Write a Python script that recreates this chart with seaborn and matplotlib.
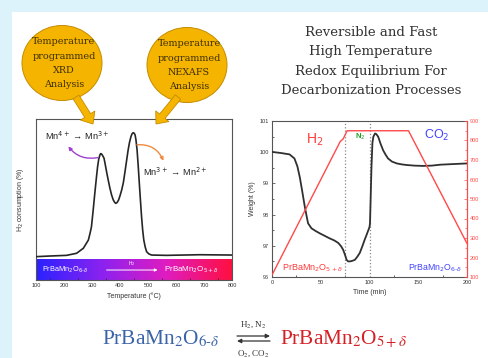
import numpy as np
import matplotlib
matplotlib.use('Agg')
import matplotlib.pyplot as plt
import seaborn as sns
from matplotlib.patches import Rectangle, Ellipse, FancyArrow
from matplotlib.colors import LinearSegmentedColormap

# ---------------- data ----------------
tpr_temp = [100, 150, 209, 245, 269, 287, 293, 298, 304, 310, 316, 320, 324, 328, 331, 334, 338,
            343, 347, 352, 358, 364, 370, 376, 381, 385, 390, 395, 400, 406, 412, 417, 423, 429,
            434, 439, 443, 447, 451, 454, 457, 461, 465, 469, 473, 477, 481, 485, 490, 495, 503,
            513, 566, 685, 800]
tpr_h2 = [14.5, 14.9, 15.3, 16.6, 19.7, 24.8, 29, 33, 43, 53.8, 64, 70.4, 75, 77.6, 78.5, 78.3, 77.3,
          75.6, 72, 67.3, 62, 57, 52.8, 49.7, 48.2, 47.6, 48.2, 49.7, 52.3, 55.9, 60.5, 66.3, 73.5, 80.7,
          85.5, 89, 90.8, 91.5, 91.1, 90, 87, 80.7, 71, 60, 49.5, 39.3, 31, 24.8, 20.5, 17.6, 16.2,
          15.5, 15.3, 15.7, 15.5]
tpr_ticks = [100, 200, 300, 400, 500, 600, 700, 800]

time_w = [0, 10, 18, 23, 26, 28.5, 31, 33.6, 35.5, 37, 40.5, 45, 49, 54, 59, 64, 68, 71, 73, 75,
          76.5, 78, 80, 82.5, 85, 87.5, 90, 92.5, 95, 97, 98.8, 100, 100.5, 101, 102, 103, 104,
          105.7, 107, 109, 111, 114, 116.5, 119, 123, 128, 133, 138, 146, 155, 164, 172.6, 186, 200]
weight = [100.01, 99.97, 99.93, 99.8, 99.55, 99.2, 98.75, 98.26, 97.95, 97.72, 97.56, 97.47, 97.4,
          97.32, 97.24, 97.17, 97.09, 96.98, 96.87, 96.7, 96.55, 96.5, 96.5, 96.52, 96.55, 96.65,
          96.77, 96.97, 97.19, 97.35, 97.5, 97.6, 97.72, 98.3, 99.5, 100.3, 100.5, 100.6, 100.58,
          100.49, 100.3, 100.06, 99.92, 99.8, 99.7, 99.64, 99.61, 99.59, 99.57, 99.56, 99.57, 99.6,
          99.62, 99.64]
time_T = [0, 70, 73, 77, 140, 200]
temp_T = [110, 795, 808, 850, 850, 272]
switch_times = [75, 100]
time_ticks = [0, 50, 100, 150, 200]
weight_ticks = [96, 97, 98, 99, 100, 101]
temp_ticks = [100, 200, 300, 400, 500, 600, 700, 800, 900]

title_lines = ["Reversible and Fast", "High Temperature", "Redox Equilibrium For",
               "Decarbonization Processes"]

# ---------------- style ----------------
sns.set_theme(style='white')
plt.rcParams['font.family'] = ['Liberation Sans', 'DejaVu Sans']
plt.rcParams['xtick.direction'] = 'in'
plt.rcParams['ytick.direction'] = 'in'

fig = plt.figure(figsize=(4.88, 3.58), dpi=100)
fig.patch.set_facecolor('#ddf3fc')

W, H = 488, 358


def px_axes(l, t, r, b, **kw):
    return fig.add_axes([l / W, (H - b) / H, (r - l) / W, (b - t) / H], **kw)


bg = fig.add_axes([0, 0, 1, 1], zorder=-5)
bg.set_xlim(0, W)
bg.set_ylim(H, 0)
bg.axis('off')
bg.add_patch(Rectangle((12, 12), 476, 346, facecolor='white', edgecolor='none'))

gold = '#f5b400'
gold_edge = '#c48c00'
txtc = '#3f3000'
for cx, cy, lines in [(62, 63, ["Temperature", "programmed", "XRD", "Analysis"]),
                      (187, 65, ["Temperature", "programmed", "NEXAFS", "Analysis"])]:
    bg.add_patch(Ellipse((cx, cy), 80, 75, facecolor=gold, edgecolor=gold_edge, lw=0.7))
    for i, s in enumerate(lines):
        bg.text(cx + 2, cy - 21 + i * 14.3, s, ha='center', va='center', fontsize=6.9,
                family='DejaVu Serif', color=txtc)

for i, (s, y) in enumerate(zip(title_lines, [32, 52, 72, 90])):
    bg.text(371, y, s, ha='center', va='center', fontsize=9.5, family='DejaVu Serif',
            color='#333333')

# equation
bg.text(102, 344, r'PrBaMn$_2$O$_{6\text{-}\delta}$', ha='left', va='baseline', fontsize=15.3,
        family='Liberation Serif', math_fontfamily='stix', color='#3a63a8')
bg.text(280, 344, r'PrBaMn$_2$O$_{5+\delta}$', ha='left', va='baseline', fontsize=15.3,
        family='Liberation Serif', math_fontfamily='stix', color='#d42026')
bg.text(253, 325, r'H$_2$, N$_2$', ha='center', va='center', fontsize=6.5,
        family='Liberation Serif', math_fontfamily='stix', color='#333333')
bg.text(253, 354, r'O$_2$, CO$_2$', ha='center', va='center', fontsize=6.5,
        family='Liberation Serif', math_fontfamily='stix', color='#333333')
bg.annotate('', xy=(270, 336), xytext=(237, 336),
            arrowprops=dict(arrowstyle='-|>', color='#333333', lw=0.9, mutation_scale=6,
                            shrinkA=0, shrinkB=0))
bg.annotate('', xy=(237, 341), xytext=(270, 341),
            arrowprops=dict(arrowstyle='-|>', color='#333333', lw=0.9, mutation_scale=6,
                            shrinkA=0, shrinkB=0))

# ---------------- left panel: H2-TPR ----------------
axL = px_axes(36, 119, 232, 280)
cmap = LinearSegmentedColormap.from_list('g', ['#2a22ff', '#8a22f0', '#e01cc0', '#ff1040'])
axL.imshow(np.linspace(0, 1, 256)[None, :], extent=[100, 800, 0, 13], aspect='auto', cmap=cmap,
           zorder=0)
sns.lineplot(x=tpr_temp, y=tpr_h2, ax=axL, color='#262626', lw=1.2, zorder=3)
axL.set_xlim(100, 800)
axL.set_ylim(0, 100)
axL.set_yticks([])
axL.set_xticks(tpr_ticks)
axL.set_xticks(np.arange(150, 800, 100), minor=True)
axL.tick_params(axis='x', which='major', labelsize=4, length=2, width=0.5, pad=2, colors='#333333')
axL.tick_params(axis='x', which='minor', length=1.2, width=0.5, bottom=True)
axL.set_xlabel('Temperature (°C)', fontsize=5, labelpad=3, color='#333333')
axL.set_ylabel('H$_2$ consumption (%)', fontsize=5, labelpad=7, color='#333333')
for sp in axL.spines.values():
    sp.set_color('#555555')
    sp.set_linewidth(0.8)
axL.text(0.046, 0.894, r'Mn$^{4+}$ → Mn$^{3+}$', transform=axL.transAxes, fontsize=6.7,
         ha='left', va='center', color='#222222')
axL.text(0.546, 0.67, r'Mn$^{3+}$ → Mn$^{2+}$', transform=axL.transAxes, fontsize=6.7,
         ha='left', va='center', color='#222222')
axL.annotate('', xy=(0.165, 0.83), xytext=(0.315, 0.76), xycoords='axes fraction',
             arrowprops=dict(arrowstyle='-|>', color='#a040d0', lw=1.0, mutation_scale=5,
                             connectionstyle='arc3,rad=-0.3', shrinkA=0, shrinkB=0))
axL.annotate('', xy=(0.65, 0.74), xytext=(0.515, 0.84), xycoords='axes fraction',
             arrowprops=dict(arrowstyle='-|>', color='#f08a40', lw=1.0, mutation_scale=5,
                             connectionstyle='arc3,rad=-0.35', shrinkA=0, shrinkB=0))
axL.text(0.03, 0.065, r'PrBaMn$_2$O$_{6\text{-}\delta}$', transform=axL.transAxes, fontsize=5.3,
         ha='left', va='center', color='white')
axL.text(0.655, 0.065, r'PrBaMn$_2$O$_{5+\delta}$', transform=axL.transAxes, fontsize=5.8,
         ha='left', va='center', color='white')
axL.text(0.49, 0.105, r'H$_2$', transform=axL.transAxes, fontsize=3.5, ha='center',
         va='center', color='white')
axL.annotate('', xy=(0.62, 0.062), xytext=(0.36, 0.062), xycoords='axes fraction',
             arrowprops=dict(arrowstyle='-|>', color='white', lw=0.7, mutation_scale=4,
                             shrinkA=0, shrinkB=0))

# ---------------- right panel: TGA ----------------
axR = px_axes(272, 121, 467, 277)
sns.lineplot(x=time_w, y=weight, ax=axR, color='#303030', lw=1.3, zorder=3)
for t in switch_times:
    axR.axvline(t, color='#888888', ls=':', lw=0.9, zorder=1)
axR.set_xlim(0, 200)
axR.set_ylim(96, 101)
axR.set_xticks(time_ticks)
axR.set_yticks(weight_ticks)
axR.set_xticks([25, 75, 125, 175], minor=True)
axR.set_yticks(np.arange(96.5, 101, 1), minor=True)
axR.tick_params(which='major', labelsize=4, length=2, width=0.5, pad=2, colors='#333333')
axR.tick_params(which='minor', length=1.2, width=0.5, bottom=True, left=True)
axR.set_xlabel('Time (min)', fontsize=5, labelpad=3, color='#333333')
axR.set_ylabel('Weight (%)', fontsize=5, labelpad=3, color='#333333')
for sp in axR.spines.values():
    sp.set_color('#555555')
    sp.set_linewidth(0.8)

axT = axR.twinx()
sns.lineplot(x=time_T, y=temp_T, ax=axT, color='#ff4a4a', lw=1.0)
axT.set_ylim(100, 900)
axT.set_yticks(temp_ticks)
axT.set_yticks(np.arange(150, 900, 100), minor=True)
axT.tick_params(axis='y', which='major', labelsize=4, length=2, width=0.5, pad=2,
                colors='#ff4a4a', direction='in')
axT.tick_params(axis='y', which='minor', length=1.2, width=0.5, right=True, colors='#ff4a4a',
                direction='in')
axT.spines['right'].set_color('#ff4a4a')
axT.spines['right'].set_linewidth(0.8)
for k in ['top', 'left', 'bottom']:
    axT.spines[k].set_visible(False)
axT.set_ylabel('')
axT.grid(False)

axR.text(0.22, 0.878, r'H$_2$', transform=axR.transAxes, fontsize=10, color='#ff3b3b',
         ha='center', va='center')
axR.text(0.45, 0.90, r'N$_2$', transform=axR.transAxes, fontsize=5.5, color='#22a022',
         ha='center', va='center', fontweight='bold')
axR.text(0.846, 0.91, r'CO$_2$', transform=axR.transAxes, fontsize=9, color='#4444ff',
         ha='center', va='center')
axR.text(0.21, 0.058, r'PrBaMn$_2$O$_{5+\delta}$', transform=axR.transAxes, fontsize=6.5,
         color='#ff3b3b', ha='center', va='center')
axR.text(0.836, 0.058, r'PrBaMn$_2$O$_{6\text{-}\delta}$', transform=axR.transAxes, fontsize=6.3,
         color='#4444ff', ha='center', va='center')

# ---------------- foreground arrows from the circles ----------------
fg = fig.add_axes([0, 0, 1, 1], zorder=20)
fg.set_xlim(0, W)
fg.set_ylim(H, 0)
fg.axis('off')
fg.patch.set_alpha(0)
for x0, y0, x1, y1 in [(76, 97, 93, 124), (178, 97, 156, 124)]:
    fg.add_patch(FancyArrow(x0, y0, x1 - x0, y1 - y0, width=7, head_width=17, head_length=10,
                            length_includes_head=True, facecolor=gold, edgecolor=gold_edge,
                            lw=0.6))

fig.savefig('out.png', dpi=100, facecolor=fig.get_facecolor())
